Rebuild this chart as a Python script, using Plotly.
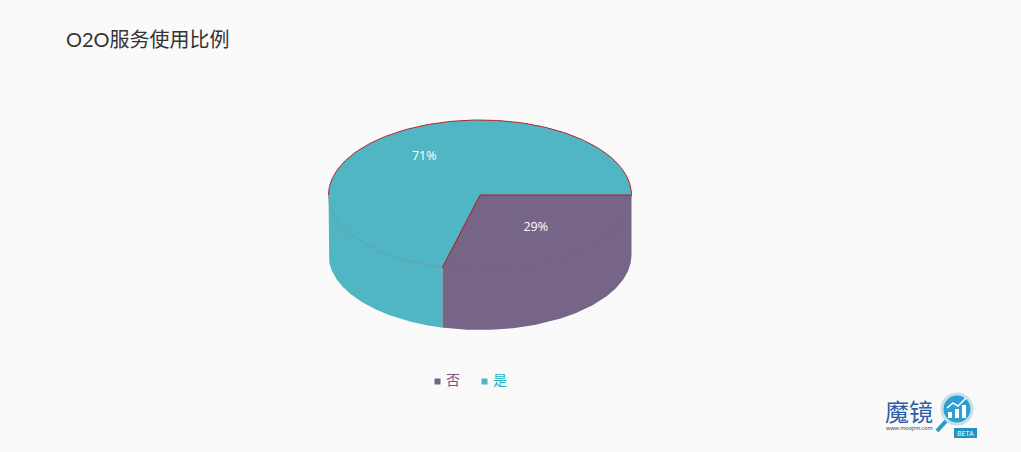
import numpy as np
import plotly.graph_objects as go

categories = ['否', '是']
values = [29, 71]
colors = ['#766587', '#50B6C4']
label_colors = ['#7B4F8C', '#22B2C6']
title = 'O2O服务使用比例'

W, H = 1021, 452
CX, CY, RX, RY, DEPTH = 480, 195, 151.5, 75, 60
BG = '#FAFAFB'
CJK = 'Lato, "Noto Sans CJK SC", sans-serif'


def arc(a0, a1, n=160):
    t = np.radians(np.linspace(a0, a1, n))
    return CX + RX * np.cos(t), CY + RY * np.sin(t)


def poly(fig, x, y, color):
    fig.add_trace(go.Scatter(x=x, y=y, mode='lines', fill='toself', fillcolor=color,
                             line=dict(width=0), hoverinfo='skip', showlegend=False))


fig = go.Figure()

# slices run clockwise from 3 o'clock
shares = np.array(values) / sum(values) * 360
ends = np.cumsum(shares)
starts = ends - shares

# side walls: only the front half shows, top edge runs through the centre so no seam
for a0, a1, c in zip(starts, ends, colors):
    if a0 < 180:
        x, y = arc(a0, min(a1, 180))
        poly(fig, np.r_[x[0], CX, x[-1], x[::-1]], np.r_[y[0], CY, y[-1], y[::-1] + DEPTH], c)

# top faces
for a0, a1, c in zip(starts, ends, colors):
    x, y = arc(a0, a1)
    poly(fig, np.r_[CX, x, CX], np.r_[CY, y, CY], c)

# outlines
x, y = arc(180, 360)
fig.add_trace(go.Scatter(x=x, y=y, mode='lines', line=dict(color='#B5222E', width=1),
                         hoverinfo='skip', showlegend=False))
x, y = arc(ends[0], 180)
fig.add_trace(go.Scatter(x=x, y=y, mode='lines', line=dict(color='#7C8C9C', width=0.6),
                         hoverinfo='skip', showlegend=False))
x0, y0 = arc(ends[0], ends[0], 1)
fig.add_trace(go.Scatter(x=[CX + RX, CX, x0[0]], y=[CY, CY, y0[0]], mode='lines',
                         line=dict(color='#C0101C', width=1), hoverinfo='skip', showlegend=False))

# percentage labels
for a0, a1, v in zip(starts, ends, values):
    mid = np.radians((a0 + a1) / 2)
    fig.add_trace(go.Scatter(x=[CX + 0.6 * RX * np.cos(mid)], y=[CY - 2.5 + 0.6 * RY * np.sin(mid)],
                             mode='text', text=[f'{v}%'],
                             textfont=dict(color='white', size=12.5, family='"Open Sans", sans-serif'),
                             hoverinfo='skip', showlegend=False))

# legend
for i, (cat, c, lc) in enumerate(zip(categories, colors, label_colors)):
    fig.add_trace(go.Scatter(x=[437.5 + 47 * i], y=[381.5], mode='markers',
                             marker=dict(symbol='square', size=6, color=c),
                             hoverinfo='skip', showlegend=False))
    fig.add_annotation(x=444 + 47 * i, y=379, text=cat, showarrow=False, xanchor='left',
                       font=dict(size=14, color=lc, family=CJK))

fig.add_annotation(x=64, y=39, text=title, showarrow=False, xanchor='left',
                   font=dict(size=20, color='#333333', family=CJK))

# logo
LOGO = '#2F5EA8'
fig.add_annotation(x=883, y=410, text='魔镜', showarrow=False, xanchor='left',
                   font=dict(size=24, color=LOGO, family='"Noto Sans CJK SC"'))
fig.add_annotation(x=884, y=428, text='www.moojnn.com', showarrow=False, xanchor='left',
                   font=dict(size=5.5, color='#333333', family='"Open Sans"'))
fig.add_shape(type='line', x0=947, y0=420, x1=937, y1=431, line=dict(color='#2A9CCB', width=4))
fig.add_shape(type='circle', x0=942, y0=394, x1=972, y1=424,
              fillcolor='#2E9FD0', line=dict(color='#C6DFE9', width=3))
for bx, top in [(948, 412), (955, 409), (962, 405)]:
    fig.add_shape(type='rect', x0=bx, x1=bx + 4, y0=top, y1=418, fillcolor='white', line=dict(width=0))
fig.add_shape(type='path', path='M 947 408 L 953 403 L 958 406 L 966 398',
              line=dict(color='white', width=1.5))
fig.add_shape(type='rect', x0=954, y0=428, x1=977, y1=438, fillcolor='#1F94C4', line=dict(width=0))
fig.add_annotation(x=965.5, y=433.5, text='BETA', showarrow=False,
                   font=dict(size=7, color='white', family='"Open Sans"'))

fig.update_layout(
    width=W, height=H,
    margin=dict(l=0, r=0, t=0, b=0),
    paper_bgcolor=BG, plot_bgcolor=BG,
    xaxis=dict(range=[0, W], visible=False, fixedrange=True),
    yaxis=dict(range=[H, 0], visible=False, fixedrange=True),
    showlegend=False,
)
# the page's default body margin would leave a white frame
fig.write_html("out.html", config=dict(displayModeBar=False),
               post_script="document.body.style.margin='0';document.body.style.overflow='hidden';")
